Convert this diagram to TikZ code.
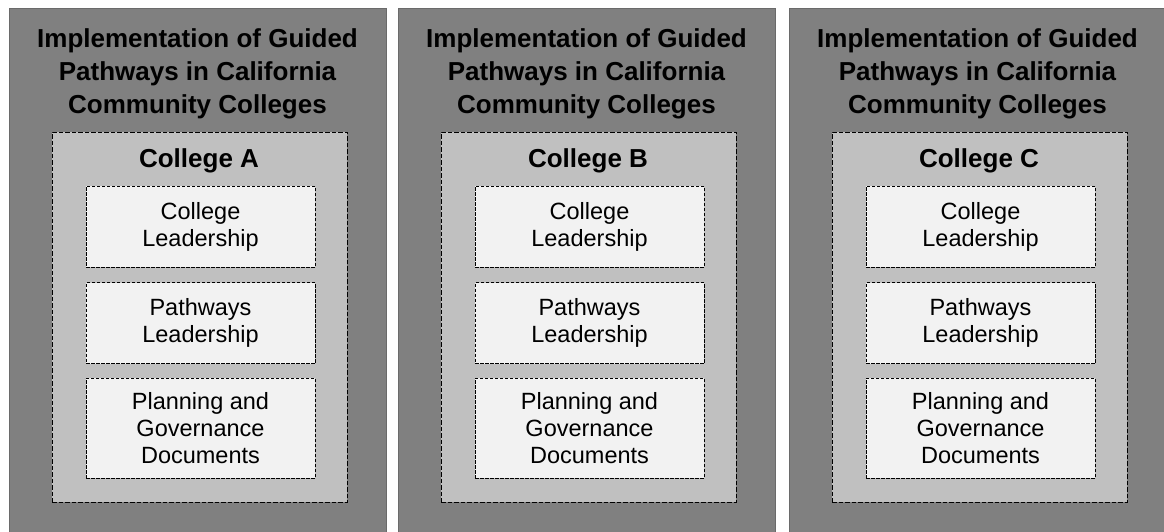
\documentclass[tikz,border=0pt]{standalone}
\usepackage{fontspec}
\setmainfont{Liberation Sans}
\definecolor{outerfill}{HTML}{808080}
\definecolor{outerline}{HTML}{6A6A6A}
\definecolor{innerfill}{HTML}{C0C0C0}
\definecolor{subfill}{HTML}{F2F2F2}
\tikzset{
  panel/.style={fill=outerfill, draw=outerline, line width=1pt, minimum width=377pt, minimum height=532pt, inner sep=0pt},
  collegebox/.style={fill=innerfill, draw=black, line width=0.9pt, dash pattern=on 4.5pt off 2pt, minimum width=295pt, minimum height=370pt, inner sep=0pt},
  itembox/.style={fill=subfill, draw=black, line width=0.8pt, dash pattern=on 3.5pt off 1.5pt, minimum width=229pt, inner sep=0pt, align=center, font=\fontsize{23.5}{27}\selectfont},
  titletext/.style={align=center, font=\fontsize{26}{33}\selectfont\bfseries, inner sep=0pt},
  collegetext/.style={font=\fontsize{26}{30}\selectfont\bfseries, inner sep=0pt},
}
\begin{document}
\begin{tikzpicture}[x=1pt,y=-1pt]
\useasboundingbox (0,0) rectangle (1164,531);
\clip (0,0) rectangle (1164,531);
\foreach \L/\n/\c in {9/1/A, 398/2/B, 789/3/C}{
  \node[panel] (outer\n) at (\L+188.5, 274) {};
  \node[titletext] (title\n) at (\L+188.5, 74) {Implementation of Guided\\Pathways in California\\Community Colleges};
  \node[collegebox] (college\n) at (\L+190.5, 317) {};
  \node[collegetext] (cname\n) at (\L+190, 161) {College \c};
  \node[itembox, minimum height=81pt] (lead\n) at (\L+191.5, 226.5) {College\\Leadership};
  \node[itembox, minimum height=81pt] (path\n) at (\L+191.5, 323) {Pathways\\Leadership};
  \node[itembox, minimum height=100pt] (plan\n) at (\L+191.5, 428) {Planning and\\Governance\\Documents};
}
\end{tikzpicture}
\end{document}
